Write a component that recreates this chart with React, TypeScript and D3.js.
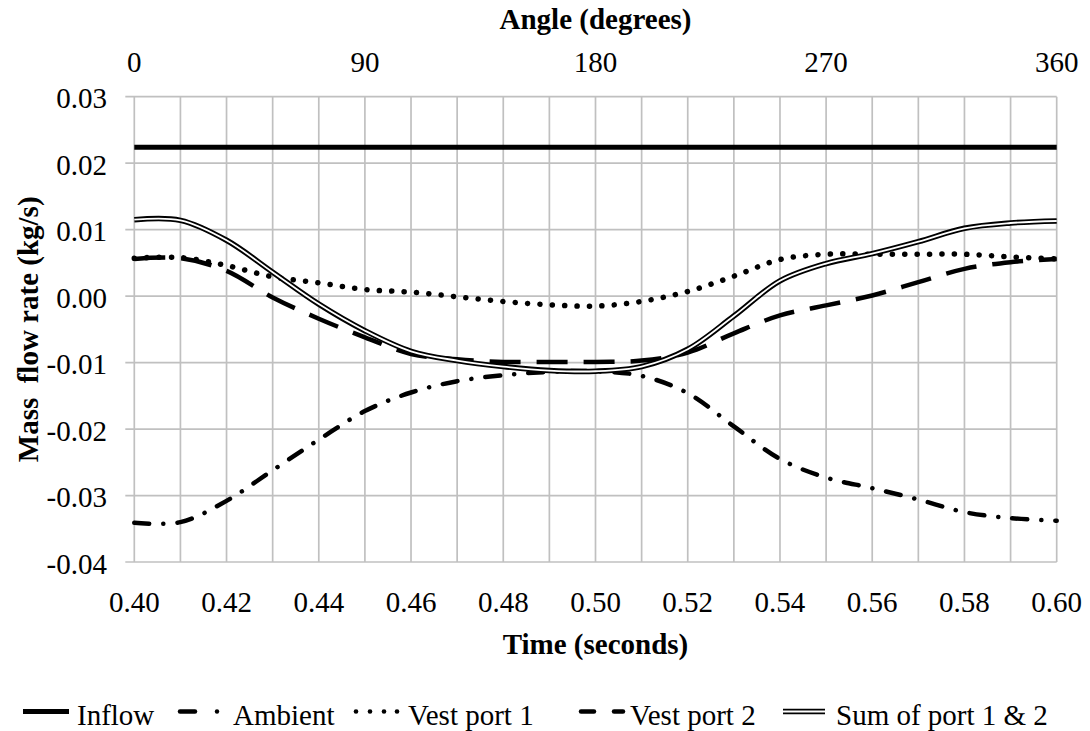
import React from "react";
import * as d3 from "d3";

const times = [0.40, 0.41, 0.42, 0.43, 0.44, 0.45, 0.46, 0.47, 0.48, 0.49, 0.50, 0.51, 0.52, 0.53, 0.54, 0.55, 0.56, 0.57, 0.58, 0.59, 0.60];
const inflow = [0.0224, 0.0224, 0.0224, 0.0224, 0.0224, 0.0224, 0.0224, 0.0224, 0.0224, 0.0224, 0.0224, 0.0224, 0.0224, 0.0224, 0.0224, 0.0224, 0.0224, 0.0224, 0.0224, 0.0224, 0.0224];
const ambient = [-0.0341, -0.0340, -0.0308, -0.0262, -0.0216, -0.0173, -0.0145, -0.0128, -0.0119, -0.0114, -0.0113, -0.0120, -0.0146, -0.0196, -0.0245, -0.0273, -0.0289, -0.0306, -0.0325, -0.0334, -0.0338];
const vestPort1 = [0.0057, 0.0058, 0.0046, 0.0029, 0.0020, 0.0010, 0.0006, -0.0001, -0.0008, -0.0013, -0.0015, -0.0008, 0.0007, 0.0030, 0.0055, 0.0063, 0.0063, 0.0063, 0.0063, 0.0059, 0.0056];
const vestPort2 = [0.0056, 0.0057, 0.0038, -0.0002, -0.0034, -0.0062, -0.0087, -0.0095, -0.0099, -0.0099, -0.0099, -0.0097, -0.0085, -0.0056, -0.0029, -0.0014, 0.0001, 0.0021, 0.0041, 0.0051, 0.0056];
const sumPorts = [0.0115, 0.0114, 0.0084, 0.0036, -0.0012, -0.0052, -0.0083, -0.0097, -0.0106, -0.0112, -0.0113, -0.0106, -0.0080, -0.0030, 0.0023, 0.0049, 0.0064, 0.0082, 0.0102, 0.0110, 0.0113];

const timeTicks = [0.40, 0.42, 0.44, 0.46, 0.48, 0.50, 0.52, 0.54, 0.56, 0.58, 0.60];
const gridTimes = times;
const angleTicks = [0, 90, 180, 270, 360];
const valueTicks = [0.03, 0.02, 0.01, 0.0, -0.01, -0.02, -0.03, -0.04];

const legendNames = ["Inflow", "Ambient", "Vest port 1", "Vest port 2", "Sum of port 1 & 2"];

const FONT = "'Liberation Serif', 'Times New Roman', serif";
const W = 1090;
const H = 731;
const X0 = 134.3;
const X1 = 1056.7;
const Y0 = 96.7;
const Y1 = 562;
const GRID = "#c0c0c0";

export default function App() {
  const x = d3.scaleLinear().domain([0.40, 0.60]).range([X0, X1]);
  const xa = d3.scaleLinear().domain([0, 360]).range([X0, X1]);
  const y = d3.scaleLinear().domain([-0.04, 0.03]).range([Y1, Y0]);

  const mk = (vals: number[]) =>
    d3
      .line<number>()
      .x((_, i) => x(times[i]))
      .y((v) => y(v))
      .curve(d3.curveCatmullRom.alpha(0.5))(vals) as string;

  const legendY = 711.5;
  const textY = 725;

  return (
    <svg
      width={W}
      height={H}
      style={{ position: "absolute", left: 0, top: 0, background: "#fff" }}
      fontFamily={FONT}
    >
      <rect x={0} y={0} width={W} height={H} fill="#fff" />
      {/* grid */}
      {valueTicks.map((v) => (
        <line key={"h" + v} x1={X0 - 9} x2={X1} y1={y(v)} y2={y(v)} stroke={GRID} strokeWidth={1.7} />
      ))}
      {gridTimes.map((t) => (
        <line key={"v" + t} x1={x(t)} x2={x(t)} y1={Y0} y2={Y1} stroke={GRID} strokeWidth={1.7} />
      ))}

      {/* series */}
      <path d={mk(inflow)} fill="none" stroke="#000" strokeWidth={5} />
      <path d={mk(ambient)} fill="none" stroke="#000" strokeWidth={4.5} strokeLinecap="round" strokeDasharray="15 14 0.1 14" />
      <path d={mk(vestPort1)} fill="none" stroke="#000" strokeWidth={5.5} strokeLinecap="round" strokeDasharray="0.1 12.3" />
      <path d={mk(vestPort2)} fill="none" stroke="#000" strokeWidth={4.5} strokeDasharray="31 16" />
      <path d={mk(sumPorts)} fill="none" stroke="#000" strokeWidth={5.5} />
      <path d={mk(sumPorts)} fill="none" stroke="#fff" strokeWidth={1.8} />

      {/* left axis labels */}
      {valueTicks.map((v) => (
        <text key={"yl" + v} x={107} y={y(v) + 11.5} fontSize={29} textAnchor="end" fill="#000">
          {d3.format(".2f")(v).replace("−", "-")}
        </text>
      ))}
      {/* bottom axis labels */}
      {timeTicks.map((t) => (
        <text key={"xl" + t} x={x(t)} y={612} fontSize={29} textAnchor="middle" fill="#000">
          {d3.format(".2f")(t)}
        </text>
      ))}
      {/* top axis labels */}
      {angleTicks.map((a) => (
        <text key={"al" + a} x={xa(a)} y={72} fontSize={29} textAnchor="middle" fill="#000">
          {a}
        </text>
      ))}

      {/* titles */}
      <text x={(X0 + X1) / 2} y={29} fontSize={29} fontWeight="bold" textAnchor="middle">
        Angle (degrees)
      </text>
      <text x={(X0 + X1) / 2} y={654} fontSize={29} fontWeight="bold" textAnchor="middle">
        Time (seconds)
      </text>
      <text
        transform={`translate(38, ${(Y0 + Y1) / 2}) rotate(-90)`}
        fontSize={29}
        fontWeight="bold"
        textAnchor="middle"
        style={{ whiteSpace: "pre" }}
      >
        {"Mass  flow rate (kg/s)"}
      </text>

      {/* legend */}
      <line x1={23} x2={69} y1={legendY} y2={legendY} stroke="#000" strokeWidth={5} />
      <text x={77} y={textY} fontSize={29}>{legendNames[0]}</text>

      <line x1={180} x2={195} y1={legendY} y2={legendY} stroke="#000" strokeWidth={4.5} strokeLinecap="round" />
      <circle cx={217} cy={legendY} r={2.2} fill="#000" />
      <text x={233} y={textY} fontSize={29}>{legendNames[1]}</text>

      {[356, 370, 384, 397].map((cx) => (
        <circle key={cx} cx={cx} cy={legendY} r={2.3} fill="#000" />
      ))}
      <text x={408} y={textY} fontSize={29}>{legendNames[2]}</text>

      <line x1={581} x2={594} y1={legendY} y2={legendY} stroke="#000" strokeWidth={4.5} strokeLinecap="round" />
      <line x1={614} x2={623} y1={legendY} y2={legendY} stroke="#000" strokeWidth={4.5} strokeLinecap="round" />
      <text x={630} y={textY} fontSize={29}>{legendNames[3]}</text>

      <line x1={783} x2={825} y1={legendY} y2={legendY} stroke="#000" strokeWidth={5.5} />
      <line x1={783} x2={825} y1={legendY} y2={legendY} stroke="#fff" strokeWidth={1.8} />
      <text x={836} y={textY} fontSize={29}>{legendNames[4]}</text>
    </svg>
  );
}
